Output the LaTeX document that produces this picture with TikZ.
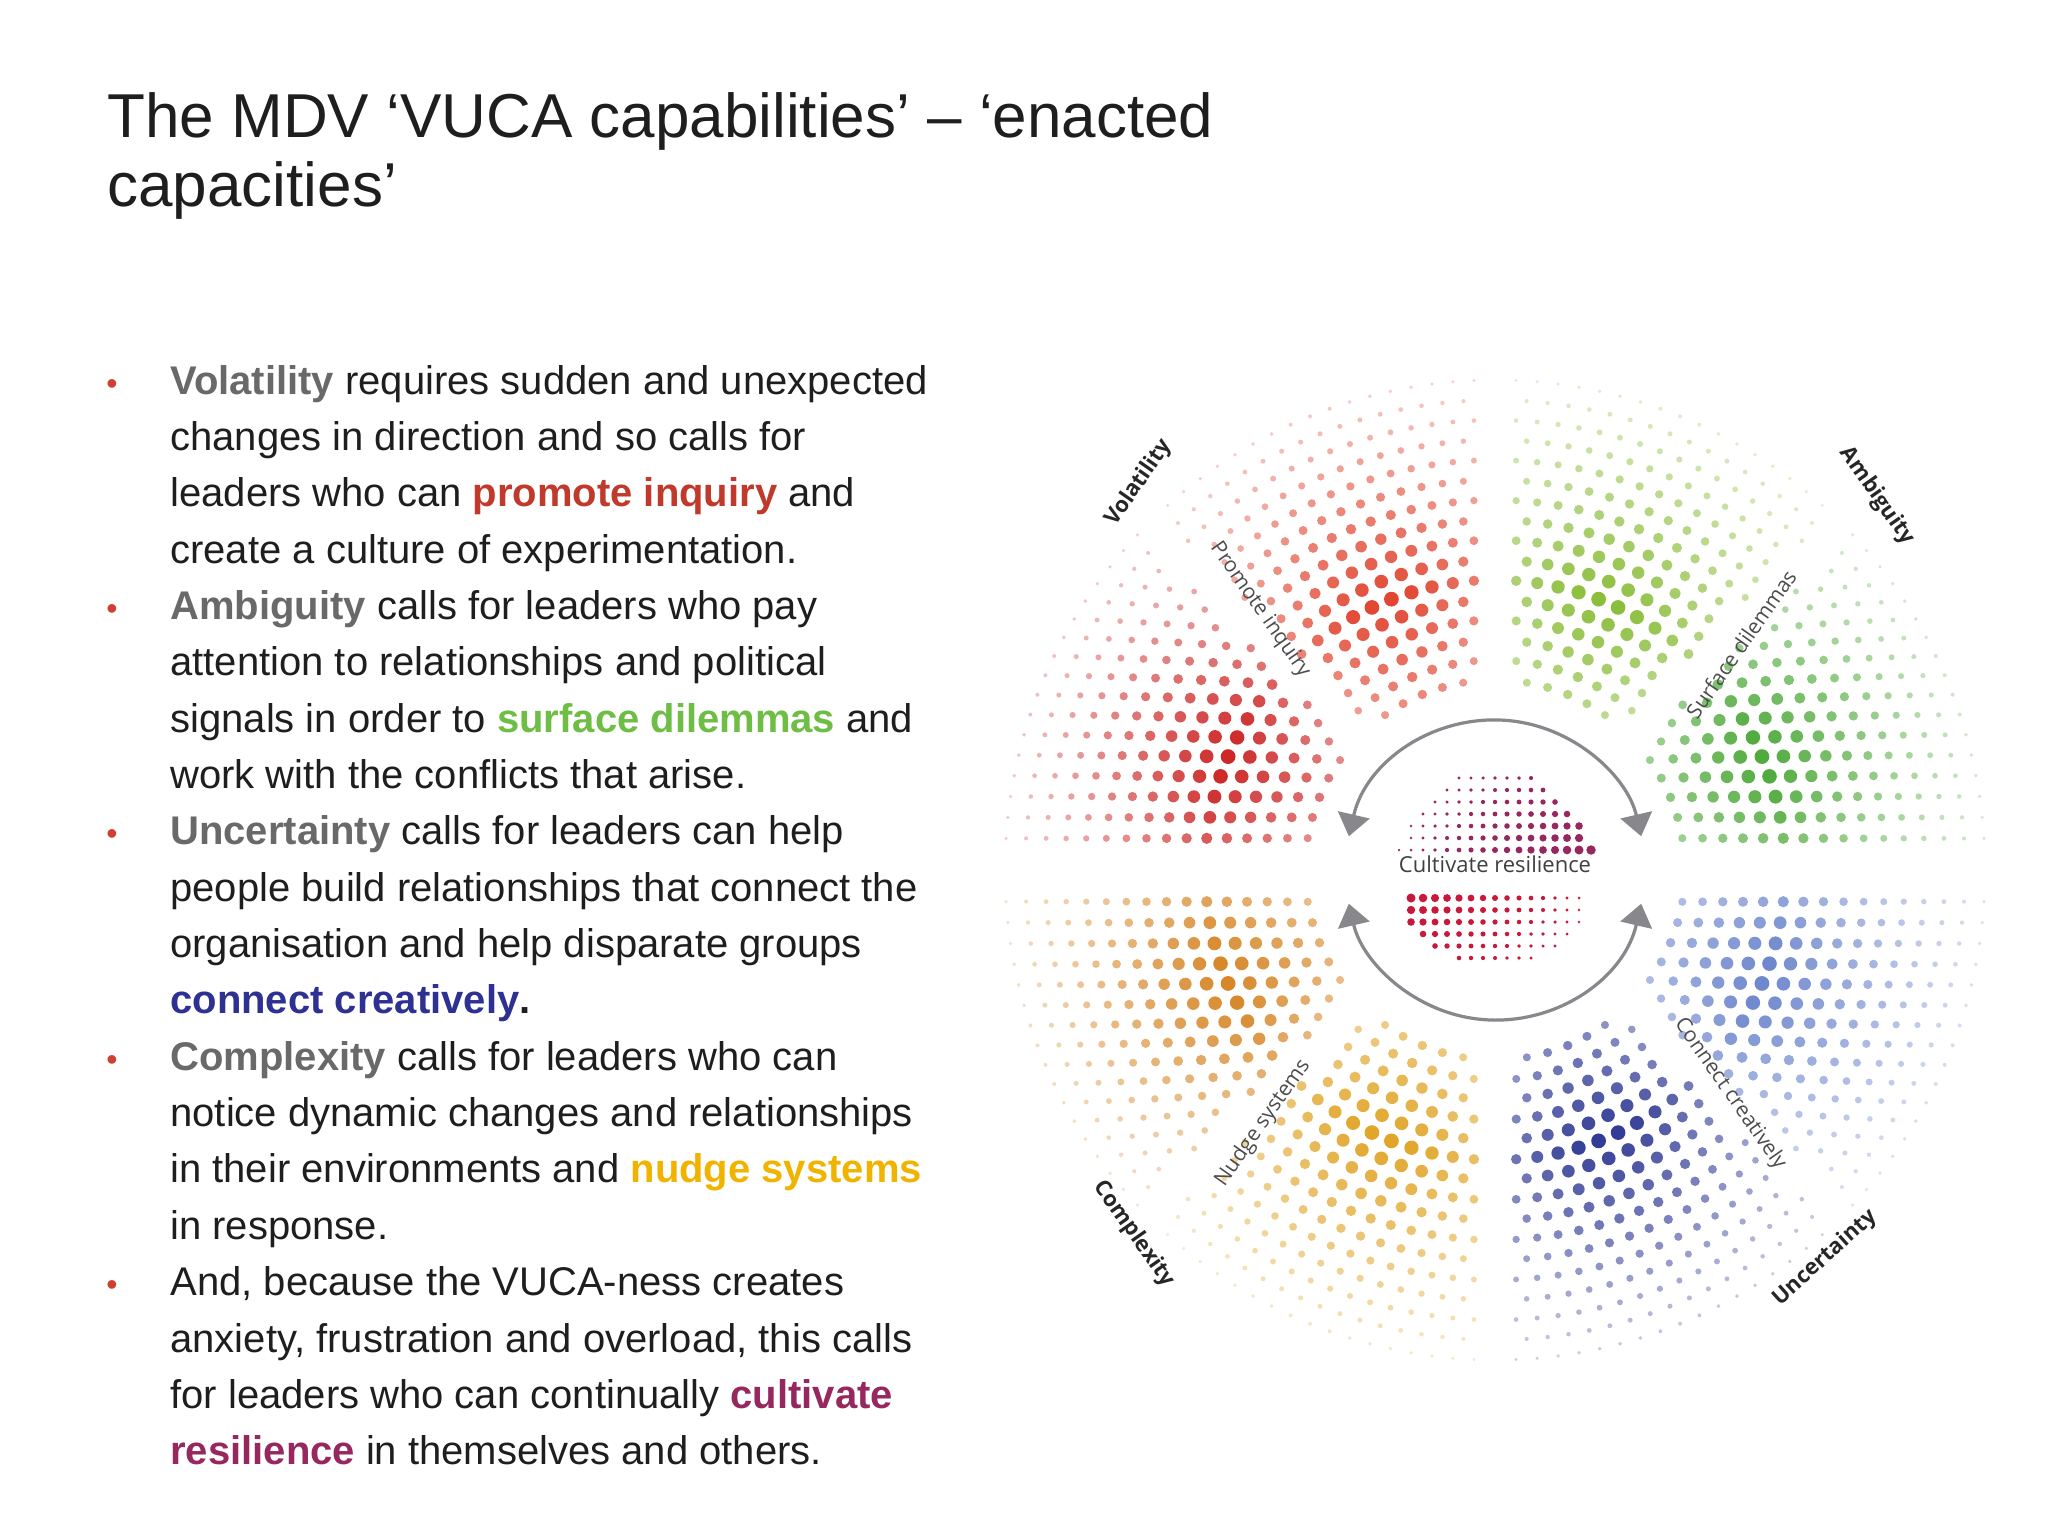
\documentclass[tikz,border=0pt]{standalone}
\usepackage{fontspec}
\setmainfont{Liberation Sans}
\newfontfamily\osans{Open Sans}
\usetikzlibrary{arrows.meta}
\definecolor{txt}{RGB}{30,30,30}
\definecolor{vgray}{RGB}{105,105,105}
\definecolor{cred}{RGB}{192,57,43}
\definecolor{cgreen}{RGB}{110,190,70}
\definecolor{cblue}{RGB}{46,49,146}
\definecolor{cyel}{RGB}{240,180,0}
\definecolor{cpurp}{RGB}{150,40,95}
\definecolor{ccrim}{RGB}{200,25,60}
\definecolor{bul}{RGB}{208,64,48}
\definecolor{w0}{RGB}{110,135,205}
\definecolor{w1}{RGB}{50,60,150}
\definecolor{w2}{RGB}{225,165,40}
\definecolor{w3}{RGB}{215,135,40}
\definecolor{w4}{RGB}{205,40,40}
\definecolor{w5}{RGB}{225,70,50}
\definecolor{w6}{RGB}{140,190,60}
\definecolor{w7}{RGB}{80,170,60}
\definecolor{arrg}{RGB}{135,135,140}
\tikzset{
 tl/.style={anchor=base west,inner sep=0pt,font=\fontsize{20}{24}\selectfont,text=txt},
 bl/.style={anchor=base west,inner sep=0pt,font=\fontsize{16}{20}\selectfont,text=bul},
 vucalabel/.style={font=\osans\bfseries\fontsize{11}{13}\selectfont,text=black!85,inner sep=0pt},
 sublabel/.style={font=\osans\fontsize{10.5}{12}\selectfont,text=black!70,inner sep=0pt},
 arr/.style={draw=arrg,line width=1.6pt,{Triangle[length=11pt,width=16pt]}-{Triangle[length=11pt,width=16pt]}}
}
\newcommand\bw[1]{\textbf{\color{vgray}#1}}
\begin{document}
\begin{tikzpicture}[x=0.5pt,y=-0.5pt]
\useasboundingbox (0,0) rectangle (2048,1536);
\fill[white] (0,0) rectangle (2048,1536);
\node[anchor=base west,inner sep=0pt,font=\fontsize{31}{36}\selectfont,text=txt] (t1) at (107,137) {The MDV ‘VUCA capabilities’ – ‘enacted};
\node[anchor=base west,inner sep=0pt,font=\fontsize{31}{36}\selectfont,text=txt] (t2) at (107,206) {capacities’};
\node[bl] (b1) at (106,394) {•};
\node[bl] (b2) at (106,619.4) {•};
\node[bl] (b3) at (106,844.8) {•};
\node[bl] (b4) at (106,1070.2) {•};
\node[bl] (b5) at (106,1295.6) {•};
\node[tl] (l0) at (170,394) {\bw{Volatility} requires sudden and unexpected};
\node[tl] (l1) at (170,450.3) {changes in direction and so calls for};
\node[tl] (l2) at (170,506.7) {leaders who can \textbf{\color{cred}promote inquiry} and};
\node[tl] (l3) at (170,563.0) {create a culture of experimentation.};
\node[tl] (l4) at (170,619.4) {\bw{Ambiguity} calls for leaders who pay};
\node[tl] (l5) at (170,675.8) {attention to relationships and political};
\node[tl] (l6) at (170,732.1) {signals in order to \textbf{\color{cgreen}surface dilemmas} and};
\node[tl] (l7) at (170,788.5) {work with the conflicts that arise.};
\node[tl] (l8) at (170,844.8) {\bw{Uncertainty} calls for leaders can help};
\node[tl] (l9) at (170,901.2) {people build relationships that connect the};
\node[tl] (l10) at (170,957.5) {organisation and help disparate groups};
\node[tl] (l11) at (170,1013.9) {\textbf{\color{cblue}connect creatively}\textbf{.}};
\node[tl] (l12) at (170,1070.2) {\bw{Complexity} calls for leaders who can};
\node[tl] (l13) at (170,1126.6) {notice dynamic changes and relationships};
\node[tl] (l14) at (170,1182.9) {in their environments and \textbf{\color{cyel}nudge systems}};
\node[tl] (l15) at (170,1239.3) {in response.};
\node[tl] (l16) at (170,1295.6) {And, because the VUCA-ness creates};
\node[tl] (l17) at (170,1352.0) {anxiety, frustration and overload, this calls};
\node[tl] (l18) at (170,1408.3) {for leaders who can continually \textbf{\color{cpurp}cultivate}};
\node[tl] (l19) at (170,1464.7) {\textbf{\color{cpurp}resilience} in themselves and others.};
% wheel
\begin{scope}[shift={(1495,870)}]
\foreach \r in {190,210,...,490}{
  \pgfmathtruncatemacro\n{2*pi*\r/21}
  \pgfmathsetmacro\da{360/\n}
  \foreach \k in {1,...,\n}{
    \pgfmathsetmacro\a{(\k-0.5)*\da}
    \pgfmathsetmacro\m{mod(\a,45)}
    \pgfmathsetmacro\g{\r*sin(min(\m,45-\m))}
    \pgfmathsetmacro\gh{\r*abs(sin(\a))}
    \pgfmathtruncatemacro\ok{and(\g>15,\gh>26)}
    \pgfmathtruncatemacro\w{\a/45}
    \pgfmathsetmacro\f{max(0,1-abs(\r-290)/230)*(0.5+0.5*sin(4*\m))}
    \pgfmathsetmacro\rr{1.2+6.2*\f}
    \pgfmathsetmacro\op{0.18+0.82*\f}
    \ifnum\ok=1
      \fill[w\w,fill opacity=\op] (\a:\r) circle[radius=\rr*0.5pt];
    \fi
  }
}
\foreach \yy in {-92,-80,...,-20}{
  \foreach \xx in {-96,-84,...,96}{
    \pgfmathtruncatemacro\ok{((\xx/10)^2+(\yy/10)^2)<98}
    \pgfmathsetmacro\rr{1.2+3.6*(\xx+100)/200*(1-(-\yy-20)/110)}
    \ifnum\ok=1 \fill[cpurp] (\xx,\yy) circle[radius=\rr*0.5pt]; \fi
  }
}
\foreach \yy in {28,40,...,100}{
  \foreach \xx in {-96,-84,...,96}{
    \pgfmathtruncatemacro\ok{((\xx/10)^2+(\yy/10)^2)<98}
    \pgfmathsetmacro\rr{1.2+3.6*(100-\xx)/200*(1-(\yy-28)/110)}
    \ifnum\ok=1 \fill[ccrim] (\xx,\yy) circle[radius=\rr*0.5pt]; \fi
  }
}
\coordinate (c0) at (0,0);
\draw[arr] (193:150) arc[start angle=193,end angle=347,radius=150];
\draw[arr] (13:150) arc[start angle=13,end angle=167,radius=150];
\node[sublabel,text=black!75,font=\osans\fontsize{11}{13}\selectfont] (cr) at (0,-6) {Cultivate resilience};
\end{scope}
\node[vucalabel,rotate=55] (vol) at (1139,483) {Volatility};
\node[vucalabel,rotate=-55] (amb) at (1877,496) {Ambiguity};
\node[vucalabel,rotate=-55] (com) at (1134,1234) {Complexity};
\node[vucalabel,rotate=42] (unc) at (1825,1258) {Uncertainty};
\node[sublabel,rotate=-55] (pi) at (1260,610) {Promote inquiry};
\node[sublabel,rotate=55] (sd) at (1741,644) {Surface dilemmas};
\node[sublabel,rotate=55] (ns) at (1263,1123) {Nudge systems};
\node[sublabel,rotate=-55] (cc) at (1730,1094) {Connect creatively};
\end{tikzpicture}
\end{document}
